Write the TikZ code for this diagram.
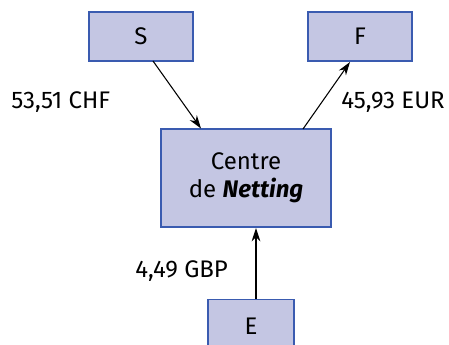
\documentclass[tikz,border=0pt]{standalone}
\usepackage{fontspec}
\setmainfont{Fira Sans}
\usetikzlibrary{arrows.meta}
\definecolor{boxfill}{HTML}{C4C6E3}
\definecolor{boxdraw}{HTML}{3A5BB0}
\begin{document}
\begin{tikzpicture}[x=0.75pt,y=-0.75pt,
  box/.style={draw=boxdraw,fill=boxfill,line width=1.1pt,inner sep=0pt,font=\fontsize{18}{21}\selectfont},
  lbl/.style={font=\fontsize{18}{21}\selectfont,inner sep=0pt},
  flow/.style={-{Stealth[length=10pt,width=6.5pt]},line width=0.8pt}]
\useasboundingbox (0,0) rectangle (449,345);
\node[box,minimum width=104*0.75pt,minimum height=49*0.75pt] (S) at (141,36.5) {S};
\node[box,minimum width=104*0.75pt,minimum height=49*0.75pt] (F) at (360,36.5) {F};
\node[box,minimum width=170*0.75pt,minimum height=98*0.75pt,align=center] (C) at (246,178) {Centre\\de \textbf{\textit{Netting}}};
\node[box,minimum width=86*0.75pt,minimum height=60*0.75pt,anchor=north] (E) at (251,299) {\raisebox{5pt}{E}};
\coordinate (s1) at (153,61);
\coordinate (c1) at (201,128.5);
\coordinate (c2) at (303,129);
\coordinate (f1) at (350,62);
\coordinate (e1) at (256,299);
\coordinate (c3) at (256,228);
\draw[flow] (s1) -- (c1);
\draw[flow] (c2) -- (f1);
\draw[flow] (e1) -- (c3);
\node[lbl,anchor=west] (l1) at (11,102) {53,51 CHF};
\node[lbl,anchor=east] (l2) at (445,102) {45,93 EUR};
\node[lbl,anchor=west] (l3) at (135,271) {4,49 GBP};
\end{tikzpicture}
\end{document}
